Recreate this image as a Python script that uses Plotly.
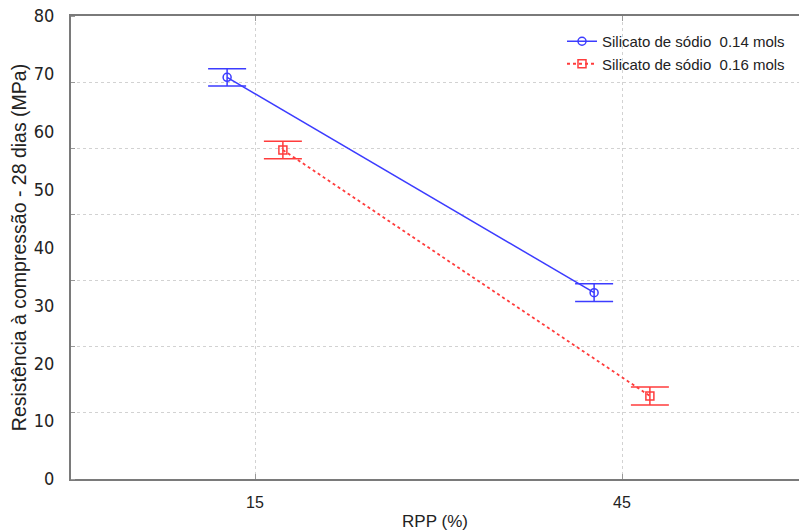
import numpy as np
import plotly.graph_objects as go

# ---- data ----
rpp_labels = ["15", "45"]
series_names = ["Silicato de sódio\u00a0 0.14 mols", "Silicato de sódio\u00a0 0.16 mols"]
s014_mean = [69.4, 32.2]
s014_err = [1.5, 1.55]
s016_mean = [56.85, 14.35]
s016_err = [1.5, 1.55]
y_tick_vals = [0, 10, 20, 30, 40, 50, 60, 70, 80]
x_title = "RPP (%)"
y_title = "Resistência à compressão - 28 dias (MPa)"

# ---- styles ----
BLUE = "#3c3cff"
RED = "#ff3c3c"
AXIS = "#7a7a7a"
GRID = "#d2d2d2"
dodge = 0.076  # horizontal dodge of the two series within a category

idx = np.arange(len(rpp_labels))

fig = go.Figure()
fig.add_trace(go.Scatter(
    x=idx - dodge, y=s014_mean, name=series_names[0],
    mode="lines+markers",
    line=dict(color=BLUE, width=1.5),
    marker=dict(symbol="circle-open", size=8, color=BLUE, line=dict(width=1.5, color=BLUE)),
    error_y=dict(type="data", array=s014_err, visible=True, color=BLUE, thickness=1.5, width=19),
))
fig.add_trace(go.Scatter(
    x=idx + dodge, y=s016_mean, name=series_names[1],
    mode="lines+markers",
    line=dict(color=RED, width=1.8, dash="dot"),
    marker=dict(symbol="square-open", size=8, color=RED, line=dict(width=1.5, color=RED)),
    error_y=dict(type="data", array=s016_err, visible=True, color=RED, thickness=1.5, width=19),
))

L, T, B = 71, 16, 52
W, H = 799, 531
cat_px = 367.0
plot_w = W - L
x0 = -(255 - L) / cat_px
x1 = x0 + plot_w / cat_px

fig.update_layout(
    width=W, height=H,
    margin=dict(l=L, r=0, t=T, b=B),
    paper_bgcolor="white", plot_bgcolor="white",
    font=dict(family="Liberation Sans, Arial, sans-serif", color="#222222"),
    showlegend=True,
    legend=dict(
        x=(562 - L) / plot_w, xanchor="left",
        y=1 - (25 - T) / (H - T - B), yanchor="top",
        bgcolor="rgba(0,0,0,0)", borderwidth=0,
        font=dict(size=15, family="Liberation Sans, Arial, sans-serif", color="#222222"),
        tracegroupgap=0, itemwidth=30,
    ),
    xaxis=dict(
        range=[x0, x1], tickmode="array", tickvals=idx, ticktext=rpp_labels,
        showline=True, linecolor=AXIS, linewidth=2, mirror="ticks",
        ticks="inside", ticklen=5, tickcolor="#999999", tickwidth=1,
        showgrid=True, gridcolor=GRID, griddash="dot", gridwidth=1,
        zeroline=False, ticklabelstandoff=8,
        tickfont=dict(size=16, family="Liberation Sans, Arial, sans-serif", color="#222222"),
        title=dict(text=x_title, font=dict(size=17, color="#222222"), standoff=6),
    ),
    yaxis=dict(
        range=[0, 80], tickmode="array", tickvals=y_tick_vals,
        showline=True, linecolor=AXIS, linewidth=2, mirror=False,
        ticks="", showgrid=False, zeroline=False,
        ticklabelstandoff=11,
        tickfont=dict(size=18, family="Liberation Sans Narrow, Arial Narrow, DejaVu Sans Condensed, Liberation Sans, sans-serif", color="#222222"),
        minor=dict(tick0=0, dtick=80 / 7, showgrid=True, gridcolor=GRID, griddash="dot",
                   gridwidth=1, ticks="inside", ticklen=4, tickcolor="#999999"),
        title=dict(text=y_title, font=dict(size=19.5, color="#222222"), standoff=2),
    ),
)

fig.write_html("out.html")
